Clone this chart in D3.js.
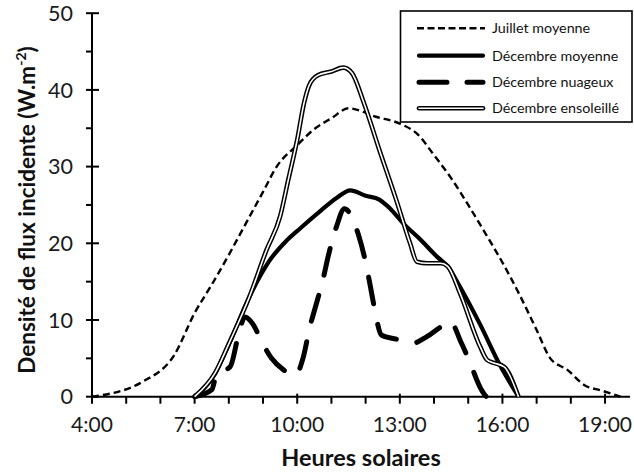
<!DOCTYPE html>
<html><head><meta charset="utf-8">
<script src="https://cdn.jsdelivr.net/npm/d3@7"></script>
<style>
html,body{margin:0;padding:0;background:#fff;}
svg{display:block;font-family:Lato,"Open Sans",sans-serif;}
</style></head>
<body>
<svg id="chart" width="634" height="474"></svg>
<script>
// ---- data ----
const julHours = [4.0, 5.5, 6.4, 7.0, 7.5, 8.0, 8.5, 9.0, 9.4, 10.0, 10.5, 11.0, 11.5, 12.3, 13.0, 13.5, 14.0, 14.5, 15.0, 15.5, 16.0, 16.5, 17.0, 17.4, 17.9, 18.4, 18.9, 19.45];
const julVals  = [0, 2.0, 5.4, 10.9, 14.6, 18.5, 22.6, 26.7, 30.0, 32.8, 34.9, 36.3, 37.6, 36.5, 35.6, 34.3, 31.5, 28.5, 25.0, 21.3, 17.5, 13.3, 8.7, 5.0, 3.5, 1.5, 0.8, 0];

const decMoyHours = [7.0, 7.6, 8.0, 8.6, 9.2, 9.7, 10.1, 10.7, 11.15, 11.55, 12.0, 12.4, 12.7, 13.1, 13.6, 14.1, 14.4, 14.75, 15.35, 15.93, 16.47];
const decMoyVals  = [0, 3.0, 6.8, 13.0, 17.8, 20.4, 22.0, 24.3, 25.9, 26.9, 26.2, 25.7, 24.6, 22.6, 20.5, 18.2, 17.0, 14.4, 9.4, 4.1, 0];

const decNuaHours = [7.0, 7.5, 7.65, 8.04, 8.28, 8.47, 8.7, 8.96, 9.25, 9.6, 9.94, 10.18, 10.37, 10.52, 10.76, 10.9, 11.15, 11.38, 11.64, 11.79, 11.95, 12.13, 12.23, 12.47, 12.9, 13.39, 13.78, 14.2, 14.47, 14.8, 15.02, 15.4, 15.55, 16.03];
const decNuaVals  = [0, 0.9, 3.0, 3.9, 8.0, 10.4, 9.5, 7.2, 5.0, 3.5, 2.8, 5.2, 9.1, 11.5, 15.4, 18.2, 22.2, 24.5, 23.0, 21.1, 18.5, 14.6, 12.2, 8.0, 7.5, 7.0, 7.8, 9.1, 9.8, 7.0, 4.8, 0.8, 0, 0];

const decSolHours = [7.0, 7.6, 8.0, 8.6, 9.1, 9.5, 9.75, 10.0, 10.2, 10.35, 10.6, 11.0, 11.35, 11.6, 11.95, 12.4, 12.9, 13.3, 13.5, 13.8, 14.2, 14.4, 14.76, 15.35, 15.55, 15.75, 16.05, 16.47];
const decSolVals  = [0, 3.1, 6.9, 13.0, 19.1, 23.5, 28.5, 33.5, 38.3, 40.6, 41.9, 42.4, 42.9, 42.2, 38.3, 32.2, 25.6, 20.0, 17.6, 17.4, 17.4, 17.0, 13.5, 6.5, 4.8, 4.4, 3.9, 0];

const seriesNames = ["Juillet moyenne", "Décembre moyenne", "Décembre nuageux", "Décembre ensoleillé"];
const xTickValues = [4, 7, 10, 13, 16, 19];
const xTickLabels = ["4:00", "7:00", "10:00", "13:00", "16:00", "19:00"];
const yTickValues = [0, 10, 20, 30, 40, 50];
const xTitle = "Heures solaires";
const yTitle = "Densité de flux incidente (W.m";

// ---- layout ----
const svg = d3.select("#chart");
const x = d3.scaleLinear().domain([4, 19.73]).range([92, 630]);
const y = d3.scaleLinear().domain([0, 50]).range([396.7, 13.2]);
const zip = (h, v) => h.map((d, i) => [d, v[i]]);
const line = d3.line().x(d => x(d[0])).y(d => y(d[1])).curve(d3.curveMonotoneX);

// axes
const gx = svg.append("g").attr("transform", `translate(0,${y(0)})`);
gx.append("line").attr("x1", x.range()[0]).attr("x2", x.range()[1]).attr("stroke", "#000").attr("stroke-width", 2);
d3.range(4, 20).forEach(h => {
  const major = xTickValues.includes(h);
  gx.append("line").attr("x1", x(h)).attr("x2", x(h)).attr("y1", major ? -3 : 0).attr("y2", 7)
    .attr("stroke", "#000").attr("stroke-width", 2);
});
gx.selectAll("text.xl").data(xTickValues).enter().append("text")
  .attr("x", d => x(d)).attr("y", 35).attr("text-anchor", "middle")
  .attr("font-size", 21).attr("fill", "#1a1a1a").text((d, i) => xTickLabels[i]);

const gy = svg.append("g").attr("transform", `translate(${x(4)},0)`);
gy.append("line").attr("y1", y(0)).attr("y2", y(50)).attr("stroke", "#000").attr("stroke-width", 2);
d3.range(0, 51, 5).forEach(v => {
  const major = v % 10 === 0;
  gy.append("line").attr("y1", y(v)).attr("y2", y(v)).attr("x1", -6).attr("x2", major ? 7 : 0)
    .attr("stroke", "#000").attr("stroke-width", 2);
});
gy.selectAll("text.yl").data(yTickValues).enter().append("text")
  .attr("x", -19).attr("y", d => y(d)).attr("dy", "0.36em").attr("text-anchor", "end")
  .attr("font-size", 21.5).attr("fill", "#1a1a1a").text(d => d);

// titles
svg.append("text").attr("x", 361).attr("y", 466).attr("text-anchor", "middle")
  .attr("font-size", 23.5).attr("font-weight", "bold").attr("fill", "#111").text(xTitle);
const yt = svg.append("text").attr("transform", "translate(35,210) rotate(-90)").attr("text-anchor", "middle")
  .attr("font-size", 22.5).attr("font-weight", "bold").attr("fill", "#111");
yt.append("tspan").text(yTitle);
yt.append("tspan").attr("font-size", 14).attr("dy", -9).text("-2");
yt.append("tspan").attr("dy", 9).text(")");

// series
const plot = svg.append("g");
plot.append("path").datum(zip(julHours, julVals)).attr("d", line).attr("fill", "none")
  .attr("stroke", "#000").attr("stroke-width", 2.4).attr("stroke-dasharray", "7,4");
plot.append("path").datum(zip(decMoyHours, decMoyVals)).attr("d", line).attr("fill", "none")
  .attr("stroke", "#000").attr("stroke-width", 4.2).attr("stroke-linejoin", "round");
plot.append("path").datum(zip(decNuaHours, decNuaVals)).attr("d", line).attr("fill", "none")
  .attr("stroke", "#000").attr("stroke-width", 5).attr("stroke-linecap", "round").attr("stroke-dasharray", "27,21");
const solData = zip(decSolHours, decSolVals);
plot.append("path").datum(solData).attr("d", line).attr("fill", "none")
  .attr("stroke", "#000").attr("stroke-width", 4.6);
plot.append("path").datum(solData).attr("d", line).attr("fill", "none")
  .attr("stroke", "#fff").attr("stroke-width", 1.6);

// legend
const lg = svg.append("g");
lg.append("rect").attr("x", 400.5).attr("y", 11).attr("width", 231.5).attr("height", 111)
  .attr("fill", "#fff").attr("stroke", "#000").attr("stroke-width", 1.6);
const rowsY = [28.3, 55.7, 82.3, 108.3];
const lx1 = 417, lx2 = 485;
lg.append("line").attr("x1", lx1).attr("x2", lx2).attr("y1", rowsY[0]).attr("y2", rowsY[0])
  .attr("stroke", "#000").attr("stroke-width", 2.4).attr("stroke-dasharray", "7,3.5");
lg.append("line").attr("x1", lx1 + 2).attr("x2", lx2 - 2).attr("y1", rowsY[1]).attr("y2", rowsY[1])
  .attr("stroke", "#000").attr("stroke-width", 4.2).attr("stroke-linecap", "round");
lg.append("line").attr("x1", lx1 + 2).attr("x2", lx2 - 2).attr("y1", rowsY[2]).attr("y2", rowsY[2])
  .attr("stroke", "#000").attr("stroke-width", 5).attr("stroke-linecap", "round").attr("stroke-dasharray", "28,20");
lg.append("line").attr("x1", lx1 + 2).attr("x2", lx2 - 2).attr("y1", rowsY[3]).attr("y2", rowsY[3])
  .attr("stroke", "#000").attr("stroke-width", 4.6).attr("stroke-linecap", "round");
lg.append("line").attr("x1", lx1 + 2).attr("x2", lx2 - 2).attr("y1", rowsY[3]).attr("y2", rowsY[3])
  .attr("stroke", "#fff").attr("stroke-width", 1.6).attr("stroke-linecap", "round");
lg.selectAll("text").data(seriesNames).enter().append("text")
  .attr("x", 492).attr("y", (d, i) => rowsY[i]).attr("dy", "0.35em")
  .attr("font-size", 14.3).attr("fill", "#111").text(d => d);
</script>
</body></html>
